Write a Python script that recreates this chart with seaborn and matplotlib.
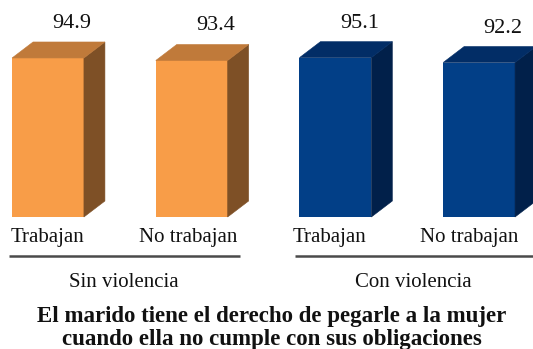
import matplotlib
matplotlib.use("Agg")
import matplotlib.pyplot as plt
import matplotlib.transforms as mtransforms
from matplotlib.patches import Polygon
import seaborn as sns
import pandas as pd

# Data
grupos = ["Sin violencia", "Sin violencia", "Con violencia", "Con violencia"]
condicion = ["Trabajan", "No trabajan", "Trabajan", "No trabajan"]
porcentaje = [94.9, 93.4, 95.1, 92.2]
etiquetas_grupo = ["Sin violencia", "Con violencia"]
titulo = ("El marido tiene el derecho de pegarle a la mujer\n"
          "cuando ella no cumple con sus obligaciones")

# Face colours for the pseudo-3D boxes
frente = {"Sin violencia": "#F89D48", "Con violencia": "#023F87"}
techo = {"Sin violencia": "#C07A3A", "Con violencia": "#022D66"}
lado = {"Sin violencia": "#7E5026", "Con violencia": "#01204A"}

sns.set_theme(style="white")
plt.rcParams["font.family"] = ["Liberation Serif", "DejaVu Serif"]

df = pd.DataFrame({"grupo": grupos, "condicion": condicion, "porcentaje": porcentaje})
df["barra"] = [f"{g} | {c}" for g, c in zip(grupos, condicion)]

W, H = 533, 349
fig = plt.figure(figsize=(W / 100, H / 100), dpi=100)
ax = fig.add_axes([0, 132 / H, 1, 217 / H])

sns.barplot(data=df, x="barra", y="porcentaje", hue="grupo", palette=frente,
            width=0.5, dodge=False, legend=False, saturation=1,
            linewidth=0, edgecolor="none", ax=ax)

ax.set_xlim(-0.334, 3.375)
ax.set_ylim(0, 129.5)
ax.set_xlabel("")
ax.set_ylabel("")
ax.set_yticks([])
sns.despine(ax=ax, left=True, bottom=True)

# Depth of the boxes (in pixels), converted to data units
dx_px, dy_px = 21, 16
p0 = ax.transData.transform((0, 0))
p1 = ax.transData.inverted().transform((p0[0] + dx_px, p0[1] + dy_px))
dx, dy = p1[0], p1[1]

for p in list(ax.patches):
    w = p.get_width()
    h = p.get_height()
    if w == 0 or h == 0:
        continue
    x0 = p.get_x()
    x1 = x0 + w
    i = int(round(x0 + w / 2))
    g = grupos[i]
    side = Polygon([(x1, 0), (x1 + dx, dy), (x1 + dx, h + dy), (x1, h)],
                   closed=True, facecolor=lado[g], edgecolor=lado[g],
                   linewidth=0.4, clip_on=False, zorder=p.get_zorder())
    top = Polygon([(x0, h), (x0 + dx, h + dy), (x1 + dx, h + dy), (x1, h)],
                  closed=True, facecolor=techo[g], edgecolor=techo[g],
                  linewidth=0.4, clip_on=False, zorder=p.get_zorder())
    ax.add_patch(side)
    ax.add_patch(top)
    ax.text(x0 + w / 2 + 0.167, h + 17.9, f"{h:.1f}", ha="center",
            va="baseline", fontsize=16, color="#111111")

# Category labels under each box
ax.set_xticks(range(len(condicion)))
ax.set_xticklabels(condicion, fontsize=15, color="#111111")
ax.tick_params(axis="x", length=0, pad=8)
shifts = [0, -4, -6, -10]
for lab, s in zip(ax.get_xticklabels(), shifts):
    lab.set_transform(lab.get_transform() +
                      mtransforms.ScaledTranslation(s / 100, 0, fig.dpi_scale_trans))

# Group rules and group names
y_rule = -23.3
ax.plot([-0.271, 1.336], [y_rule, y_rule], color="#4a4a4a", lw=1.8,
        clip_on=False, solid_capstyle="butt")
ax.plot([1.719, 3.4], [y_rule, y_rule], color="#4a4a4a", lw=1.8,
        clip_on=False, solid_capstyle="butt")
for xg, txt in zip([0.53, 2.54], etiquetas_grupo):
    ax.text(xg, -41.8, txt, ha="center", va="baseline", fontsize=15,
            color="#111111")

# Two-line bold caption; baseline anchor refers to the last line
fig.text(272 / W, (H - 345) / H, titulo, ha="center", va="baseline",
         fontsize=16.5, fontweight="bold", linespacing=1.1, color="#111111")

fig.savefig("out.png", dpi=100)
